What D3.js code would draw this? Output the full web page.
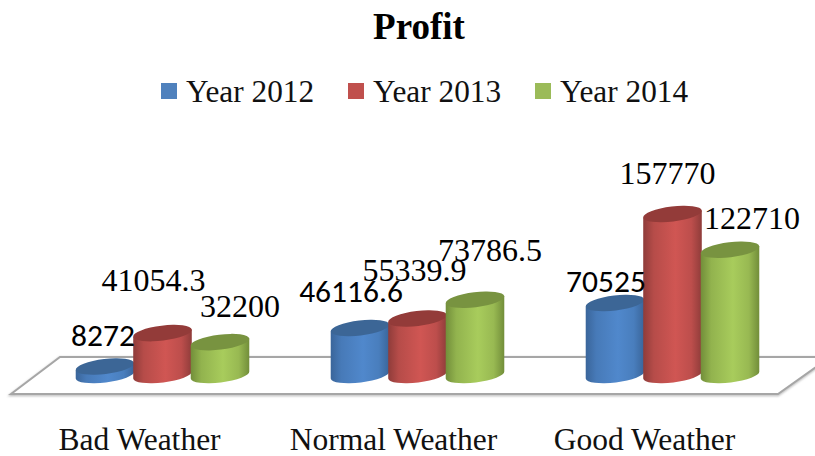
<!DOCTYPE html>
<html><head><meta charset="utf-8">
<script src="https://cdn.jsdelivr.net/npm/d3@7/dist/d3.min.js"></script>
<style>html,body{margin:0;padding:0;background:#fff}svg{display:block}</style>
</head><body><svg id="c" width="815" height="456"></svg>
<script>
const categories = ["Bad Weather","Normal Weather","Good Weather"];
const seriesNames = ["Year 2012","Year 2013","Year 2014"];
const year2012 = [8272,46116.6,70525];
const year2013 = [41054.3,55339.9,157770];
const year2014 = [32200,73786.5,122710];
const labels2012 = ["8272","46116.6","70525"];
const labels2013 = ["41054.3","55339.9","157770"];
const labels2014 = ["32200","73786.5","122710"];

const seriesValues=[year2012,year2013,year2014];
const seriesLabels=[labels2012,labels2013,labels2014];
const colors=[
 {edge:"#3a659a",mid:"#5088cc",top:"#3c6696",key:"#4f81bd"},
 {edge:"#8f3c3a",mid:"#d05653",top:"#933b39",key:"#c0504d"},
 {edge:"#728e3a",mid:"#a8cc5c",top:"#789340",key:"#9bbb59"}];
const SERIF="'Liberation Serif','Times New Roman',serif",SANS="Carlito,Lato,sans-serif";
const svg=d3.select("#c");
const defs=svg.append("defs");
colors.forEach((c,i)=>{
 const g=defs.append("linearGradient").attr("id","g"+i);
 [[0,c.edge],[.18,d3.interpolateRgb(c.edge,c.mid)(.6)],[.55,c.mid],[.82,d3.interpolateRgb(c.edge,c.mid)(.7)],[1,c.edge]]
  .forEach(s=>g.append("stop").attr("offset",s[0]).attr("stop-color",s[1]));
});
defs.append("filter").attr("id","sh").append("feGaussianBlur").attr("stdDeviation",1);

const x0=d3.scaleBand().domain(categories).range([35,800]);
const x1=d3.scalePoint().domain(seriesNames).range([-57.5,57.5]);
const y=d3.scaleLinear().domain([0,157770]).range([375,214]);

svg.append("text").attr("x",419).attr("y",39).attr("text-anchor","middle")
 .attr("font-family",SERIF).attr("font-weight","bold").attr("font-size",37).text("Profit");

const legendX=d3.scalePoint().domain(seriesNames).range([160,534]);
seriesNames.forEach((s,i)=>{
 const lx=legendX(s);
 svg.append("rect").attr("x",lx+1).attr("y",83).attr("width",16).attr("height",16).attr("fill",colors[i].key);
 svg.append("text").attr("x",lx+26).attr("y",102).attr("font-family",SERIF).attr("font-size",31.3).attr("fill","#111").text(s);
});

const floor=[[11,394],[60,357],[830,357],[778,394]];
const floorPath="M"+floor.map(p=>p.join(",")).join("L")+"Z";
svg.append("path").attr("d",floorPath).attr("fill","none").attr("stroke","#bbb").attr("stroke-width",2.5).attr("filter","url(#sh)").attr("transform","translate(0,1)");
svg.append("path").attr("d",floorPath).attr("fill","#fff").attr("stroke","#a6a6a6").attr("stroke-width",2);

const rx=29.5,ry=7.5,tilt=-7,sn=Math.sin(tilt*Math.PI/180),cs=Math.cos(tilt*Math.PI/180);
const ex=rx*cs, ey=rx*sn;
categories.forEach((cat,ci)=>{
 seriesNames.forEach((s,si)=>{
  const cx=x0(cat)+x0.bandwidth()/2+x1(s), ty=y(seriesValues[si][ci]), by=y(0);
  const side=`M${cx-ex},${ty-ey}L${cx-ex},${by-ey}A${rx},${ry},${tilt},0,0,${cx+ex},${by+ey}L${cx+ex},${ty+ey}Z`;
  svg.append("path").attr("d",side).attr("fill",`url(#g${si})`);
  const top=`M${cx-ex},${ty-ey}A${rx},${ry},${tilt},1,1,${cx+ex},${ty+ey}A${rx},${ry},${tilt},1,1,${cx-ex},${ty-ey}Z`;
  svg.append("path").attr("d",top).attr("fill",colors[si].top);
 });
});

// Hand-placed data-label offsets from each cylinder's top centre: [dx, dy]
const offsets=[
 [[-2,-21],[-9,-42],[20,-25]],
 [[-9,-26],[-3,-38],[15,-39]],
 [[-9,-11],[-5,-30],[22,-21]]];
const sansLabels=new Set(["8272","46116.6","70525"]);
categories.forEach((cat,ci)=>{
 seriesNames.forEach((s,si)=>{
  const cx=x0(cat)+x0.bandwidth()/2+x1(s), ty=y(seriesValues[si][ci]);
  const t=seriesLabels[si][ci], o=offsets[ci][si], sans=sansLabels.has(t);
  svg.append("text").attr("x",cx+o[0]).attr("y",ty+o[1]).attr("text-anchor","middle")
   .attr("font-family",sans?SANS:SERIF).attr("font-size",sans?31.5:32).attr("fill","#000").text(t);
 });
});

const axisNudge=[1,0,-4];
const axisG=svg.append("g").attr("transform","translate(-24,425)").call(d3.axisBottom(x0).tickSize(0).tickPadding(0));
axisG.select(".domain").remove();
axisG.selectAll("text").attr("font-family",SERIF).attr("font-size",31.5).attr("fill","#111").attr("dy",0).attr("y",25).attr("x",(d,i)=>axisNudge[i]);
</script></body></html>
